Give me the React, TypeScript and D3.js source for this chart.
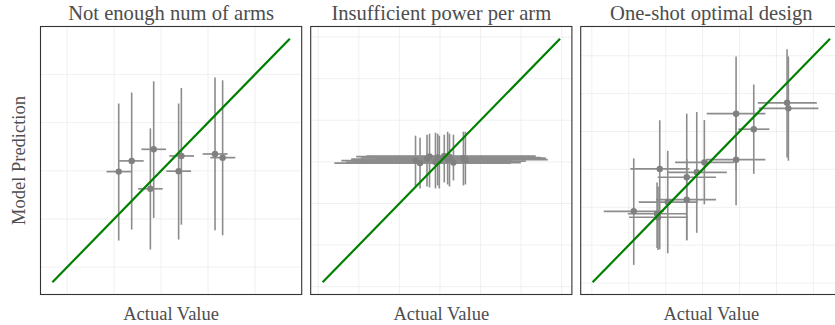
import React from 'react'
import * as d3 from 'd3'

// one point = estimate + interval on both axes
type Pt = { x: number; xlo: number; xhi: number; y: number; ylo: number; yhi: number }

const panelTitles = ['Not enough num of arms', 'Insufficient power per arm', 'One-shot optimal design']

// y = x reference line span for each panel
const identityRanges: [number, number][] = [
    [-0.315, 4.742],
    [0.105, 5.96],
    [0.02, 6.45]
]

const notEnoughArms: Pt[] = [
    { x: 1.098, xlo: 0.838, xhi: 1.364, y: 1.983, ylo: 0.552, yhi: 3.397 },
    { x: 1.374, xlo: 1.106, xhi: 1.63, y: 2.205, ylo: 0.779, yhi: 3.624 },
    { x: 1.843, xlo: 1.581, xhi: 2.106, y: 2.446, ylo: 1.021, yhi: 3.857 },
    { x: 1.772, xlo: 1.511, xhi: 2.034, y: 1.626, ylo: 0.366, yhi: 2.88 },
    { x: 2.432, xlo: 2.177, xhi: 2.702, y: 2.308, ylo: 0.882, yhi: 3.719 },
    { x: 2.374, xlo: 2.113, xhi: 2.638, y: 1.992, ylo: 0.572, yhi: 3.397 },
    { x: 3.149, xlo: 2.885, xhi: 3.417, y: 2.349, ylo: 0.764, yhi: 3.934 },
    { x: 3.311, xlo: 3.049, xhi: 3.581, y: 2.273, ylo: 0.661, yhi: 3.878 }
]

const lowPower: Pt[] = [
    { x: 2.397, xlo: 0.567, xhi: 4.624, y: 3.031, ylo: 2.385, yhi: 3.629 },
    { x: 2.508, xlo: 0.395, xhi: 4.747, y: 2.971, ylo: 2.361, yhi: 3.581 },
    { x: 2.68, xlo: 0.811, xhi: 4.993, y: 3.067, ylo: 2.409, yhi: 3.653 },
    { x: 2.742, xlo: 0.934, xhi: 5.239, y: 3.127, ylo: 2.385, yhi: 3.677 },
    { x: 2.889, xlo: 0.688, xhi: 4.87, y: 2.995, ylo: 2.361, yhi: 3.701 },
    { x: 2.943, xlo: 1.057, xhi: 5.485, y: 3.103, ylo: 2.433, yhi: 3.677 },
    { x: 2.983, xlo: 0.86, xhi: 5.116, y: 3.019, ylo: 2.361, yhi: 3.629 },
    { x: 3.106, xlo: 1.18, xhi: 5.362, y: 3.139, ylo: 2.505, yhi: 3.653 },
    { x: 3.189, xlo: 1.007, xhi: 5.657, y: 3.055, ylo: 2.457, yhi: 3.725 },
    { x: 3.234, xlo: 1.303, xhi: 5.239, y: 3.115, ylo: 2.409, yhi: 3.677 },
    { x: 3.332, xlo: 1.057, xhi: 4.993, y: 2.983, ylo: 2.553, yhi: 3.653 },
    { x: 3.578, xlo: 1.426, xhi: 5.608, y: 3.091, ylo: 2.433, yhi: 3.725 },
    { x: 3.627, xlo: 1.254, xhi: 4.795, y: 3.043, ylo: 2.457, yhi: 3.725 }
]

const oneShot: Pt[] = [
    { x: 1.135, xlo: 0.322, xhi: 1.947, y: 1.894, ylo: 0.479, yhi: 3.291 },
    { x: 1.766, xlo: 0.972, xhi: 2.565, y: 1.829, ylo: 0.925, yhi: 2.654 },
    { x: 1.793, xlo: 1.008, xhi: 2.606, y: 1.737, ylo: 0.872, yhi: 2.549 },
    { x: 1.839, xlo: 1.043, xhi: 2.641, y: 3.013, ylo: 0.891, yhi: 4.297 },
    { x: 2.056, xlo: 1.27, xhi: 2.868, y: 2.138, ylo: 0.786, yhi: 3.492 },
    { x: 2.57, xlo: 1.785, xhi: 3.364, y: 2.793, ylo: 1.134, yhi: 4.47 },
    { x: 2.57, xlo: 1.739, xhi: 3.364, y: 2.201, ylo: 1.127, yhi: 3.275 },
    { x: 2.841, xlo: 2.037, xhi: 3.654, y: 2.924, ylo: 1.326, yhi: 4.514 },
    { x: 3.047, xlo: 2.254, xhi: 3.852, y: 3.186, ylo: 2.078, yhi: 4.304 },
    { x: 3.906, xlo: 3.112, xhi: 4.699, y: 4.47, ylo: 2.968, yhi: 5.981 },
    { x: 3.906, xlo: 3.093, xhi: 4.699, y: 3.256, ylo: 2.051, yhi: 4.462 },
    { x: 4.385, xlo: 3.968, xhi: 4.808, y: 4.061, ylo: 2.882, yhi: 5.24 },
    { x: 5.287, xlo: 4.494, xhi: 6.092, y: 4.758, ylo: 3.317, yhi: 6.172 },
    { x: 5.322, xlo: 4.521, xhi: 6.135, y: 4.611, ylo: 3.23, yhi: 5.981 }
]

const panelData = [notEnoughArms, lowPower, oneShot]

const xAxisTitle = 'Actual Value'
const yAxisTitle = 'Model Prediction'

const W = 835
const H = 325
const panelTop = 26.5
const panelBottom = 294.5
const panelLefts = [40.5, 310.7, 580.7]
const panelW = 261.2
const FONT = '"Liberation Serif", "DejaVu Serif", serif'
const TEXT = '#4d4d4d'
const BAR = '#8c8c8c'
const DOT = '#808080'
const LINE = '#008000'

// ggplot style 5% padding around the data range
const expand = ([lo, hi]: [number, number]): [number, number] => {
    const pad = (hi - lo) * 0.05
    return [lo - pad, hi + pad]
}

const Panel = ({ idx }: { idx: number }) => {
    const left = panelLefts[idx]
    const dom = expand(identityRanges[idx])
    const x = d3.scaleLinear().domain(dom).range([left, left + panelW])
    const y = d3.scaleLinear().domain(dom).range([panelBottom, panelTop])
    const breaks = d3.range(Math.ceil(dom[0]), Math.floor(dom[1]) + 1)
    const pts = panelData[idx]
    const [lo, hi] = identityRanges[idx]
    const line = d3.line<number>()
        .x((d) => x(d))
        .y((d) => y(d))
    return (
        <g>
            <g className='grid'>
                {breaks.map((b) => (
                    <line key={'v' + b} x1={x(b)} x2={x(b)} y1={panelTop} y2={panelBottom}
                        stroke='#ececec' strokeWidth={0.8} />
                ))}
                {breaks.map((b) => (
                    <line key={'h' + b} x1={left} x2={left + panelW} y1={y(b)} y2={y(b)}
                        stroke='#ececec' strokeWidth={0.8} />
                ))}
            </g>
            <g className='errorbars'>
                {pts.map((p, i) => (
                    <line key={'ey' + i} x1={x(p.x)} x2={x(p.x)} y1={y(p.ylo)} y2={y(p.yhi)}
                        stroke={BAR} strokeWidth={1.6} />
                ))}
                {pts.map((p, i) => (
                    <line key={'ex' + i} x1={x(p.xlo)} x2={x(p.xhi)} y1={y(p.y)} y2={y(p.y)}
                        stroke={BAR} strokeWidth={1.7} />
                ))}
            </g>
            <g className='dots'>
                {pts.map((p, i) => (
                    <circle key={i} cx={x(p.x)} cy={y(p.y)} r={3.2} fill={DOT} />
                ))}
            </g>
            <path d={line([lo, hi]) ?? ''} stroke={LINE} strokeWidth={2.2} fill='none' />
            <rect x={left} y={panelTop} width={panelW} height={panelBottom - panelTop}
                fill='none' stroke='#333333' strokeWidth={1.1} />
            <text x={left + panelW / 2} y={19.5} textAnchor='middle' fontSize={20.6}
                fill={TEXT} fontFamily={FONT}>{panelTitles[idx]}</text>
            <text x={left + panelW / 2} y={319.5} textAnchor='middle' fontSize={18.5}
                fill={TEXT} fontFamily={FONT}>{xAxisTitle}</text>
        </g>
    )
}

const App = () => {
    return (
        <svg width={W} height={H} viewBox={`0 0 ${W} ${H}`}
            style={{ position: 'absolute', left: 0, top: 0, background: '#fff' }}>
            <rect width={W} height={H} fill='#ffffff' />
            {panelTitles.map((_, i) => (
                <Panel key={i} idx={i} />
            ))}
            <text transform={`translate(25, ${(panelTop + panelBottom) / 2}) rotate(-90)`}
                textAnchor='middle' fontSize={18.5} fill={TEXT} fontFamily={FONT}>
                {yAxisTitle}
            </text>
        </svg>
    )
}

export default App
